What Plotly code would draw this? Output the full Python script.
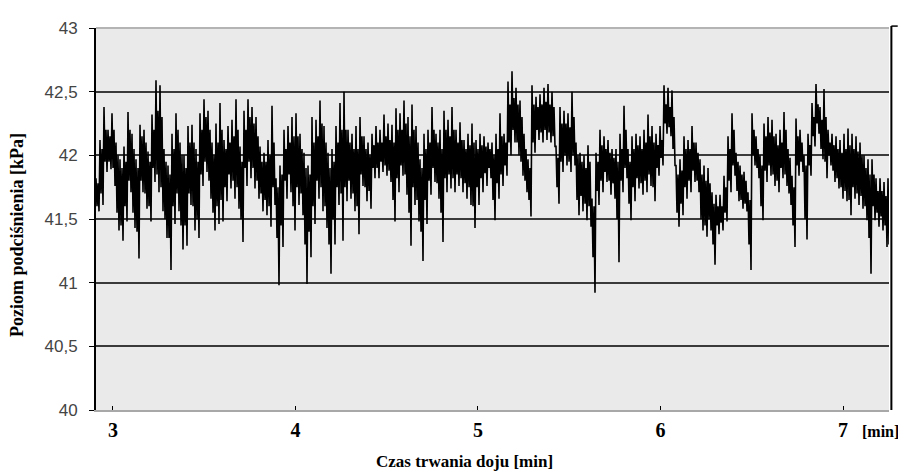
import numpy as np
import plotly.graph_objects as go

# Time span of the recording [min]
T_START = 2.907
T_END = 7.263

# Local maxima (tips of upward spikes), left to right [kPa]
upper_peaks = [
    41.82, 42.12, 42.38, 42.20, 42.33, 42.10, 41.97, 42.07, 42.34, 42.17,
    41.97, 42.24, 42.20, 42.03, 42.32, 42.59, 42.55, 42.05, 41.92, 42.17,
    42.33, 42.10, 42.00, 42.23, 42.24, 42.05, 42.33, 42.44, 42.35, 42.10,
    42.25, 42.41, 42.12, 42.23, 42.28, 42.44, 42.07, 42.35, 42.44, 42.38,
    42.30, 42.07, 42.02, 42.12, 42.39, 41.82, 41.92, 42.20, 42.23, 42.30,
    42.33, 42.17, 42.02, 41.92, 42.30, 42.28, 42.43, 42.23, 42.02, 42.05,
    42.23, 42.41, 42.50, 42.20, 42.17, 42.23, 42.30, 42.15, 42.10, 42.17,
    42.23, 42.20, 42.32, 42.25, 42.24, 42.37, 42.33, 42.43, 42.30, 42.40,
    42.23, 41.97, 42.17, 42.20, 42.38, 42.17, 42.20, 42.35, 42.28, 42.38,
    42.20, 42.26, 42.12, 42.17, 42.25, 42.12, 42.17, 42.15, 42.10, 42.10,
    42.17, 42.33, 42.17, 42.58, 42.66, 42.53, 42.43, 42.17, 41.97, 42.55,
    42.46, 42.48, 42.53, 42.56, 42.50, 42.07, 42.38, 42.35, 42.33, 42.50,
    42.10, 42.02, 42.00, 42.08, 41.66, 42.02, 42.20, 42.15, 42.12, 42.05,
    42.05, 42.17, 42.39, 42.05, 42.15, 42.17, 42.15, 42.20, 42.32, 42.23,
    42.17, 42.23, 42.55, 42.53, 42.51, 41.92, 41.97, 42.15, 42.12, 42.23,
    42.10, 41.97, 41.92, 41.90, 41.71, 41.69, 41.69, 41.84, 42.15, 42.33,
    42.02, 41.92, 41.87, 41.71, 42.33, 42.15, 42.00, 42.25, 42.30, 42.28,
    42.17, 42.20, 42.34, 42.05, 41.84, 42.29, 42.20, 42.00, 42.17, 42.41,
    42.56, 42.38, 42.52, 42.20, 42.17, 42.15, 42.12, 42.17, 42.21, 42.17,
    42.15, 42.10, 42.00, 41.97, 41.97, 41.82, 41.82, 41.79, 41.82,
]

# Upper edge of the dense (solid black) core of the trace [kPa]
core_upper = [
    41.78, 42.05, 42.20, 42.15, 42.20, 42.00, 41.90, 41.95, 42.20, 42.05,
    41.90, 42.15, 42.10, 41.95, 42.20, 42.35, 42.30, 41.95, 41.85, 42.05,
    42.20, 42.00, 41.90, 42.10, 42.10, 41.95, 42.20, 42.30, 42.20, 42.00,
    42.10, 42.20, 42.05, 42.10, 42.15, 42.20, 41.95, 42.20, 42.30, 42.25,
    42.15, 41.95, 41.95, 42.00, 42.10, 41.75, 41.85, 42.05, 42.10, 42.15,
    42.15, 42.05, 41.90, 41.85, 42.10, 42.15, 42.25, 42.10, 41.90, 41.95,
    42.10, 42.20, 42.20, 42.10, 42.05, 42.05, 42.15, 42.05, 42.00, 42.08,
    42.10, 42.10, 42.15, 42.12, 42.10, 42.20, 42.20, 42.25, 42.15, 42.20,
    42.10, 41.90, 42.05, 42.10, 42.20, 42.10, 42.05, 42.20, 42.15, 42.20,
    42.10, 42.12, 42.05, 42.08, 42.10, 42.05, 42.08, 42.07, 42.05, 42.00,
    42.05, 42.15, 42.10, 42.40, 42.45, 42.40, 42.30, 42.05, 41.90, 42.40,
    42.38, 42.40, 42.42, 42.40, 42.38, 41.98, 42.25, 42.25, 42.22, 42.30,
    42.00, 41.95, 41.90, 41.95, 41.60, 41.95, 42.08, 42.05, 42.02, 41.98,
    41.95, 42.05, 42.20, 41.95, 42.05, 42.08, 42.05, 42.10, 42.15, 42.10,
    42.08, 42.12, 42.40, 42.38, 42.30, 41.85, 41.88, 42.05, 42.05, 42.10,
    42.02, 41.85, 41.80, 41.78, 41.62, 41.60, 41.60, 41.75, 42.05, 42.20,
    41.95, 41.85, 41.80, 41.65, 42.20, 42.05, 41.92, 42.15, 42.18, 42.15,
    42.08, 42.10, 42.20, 41.98, 41.75, 42.15, 42.10, 41.92, 42.08, 42.30,
    42.40, 42.28, 42.30, 42.10, 42.08, 42.05, 42.02, 42.05, 42.08, 42.05,
    42.03, 42.00, 41.90, 41.85, 41.85, 41.72, 41.72, 41.68, 41.70,
]

# Lower edge of the dense (solid black) core of the trace [kPa]
core_lower = [
    41.60, 41.70, 41.95, 41.95, 41.90, 41.55, 41.45, 41.60, 41.80, 41.55,
    41.40, 41.80, 41.70, 41.60, 41.90, 41.85, 41.75, 41.50, 41.35, 41.60,
    41.70, 41.45, 41.45, 41.70, 41.60, 41.50, 41.85, 41.95, 41.80, 41.55,
    41.60, 41.65, 41.75, 41.85, 41.80, 41.75, 41.50, 41.90, 41.95, 41.90,
    41.80, 41.70, 41.65, 41.60, 41.75, 41.35, 41.45, 41.80, 41.85, 41.60,
    41.75, 41.70, 41.30, 41.40, 41.60, 41.80, 41.75, 41.60, 41.30, 41.50,
    41.75, 41.70, 41.75, 41.80, 41.70, 41.60, 41.85, 41.75, 41.72, 41.90,
    41.90, 41.95, 41.92, 41.88, 41.65, 41.82, 41.92, 41.85, 41.55, 41.75,
    41.65, 41.40, 41.65, 41.80, 41.90, 41.78, 41.55, 41.82, 41.85, 41.82,
    41.85, 41.82, 41.78, 41.75, 41.60, 41.75, 41.82, 41.86, 41.90, 41.65,
    41.78, 41.85, 41.92, 42.10, 42.20, 42.10, 41.95, 41.80, 41.65, 42.10,
    42.20, 42.18, 42.20, 42.18, 42.15, 41.75, 41.95, 42.00, 41.95, 42.00,
    41.65, 41.68, 41.62, 41.60, 41.20, 41.72, 41.80, 41.87, 41.80, 41.78,
    41.50, 41.80, 41.90, 41.62, 41.75, 41.82, 41.78, 41.80, 41.85, 41.75,
    41.90, 41.98, 42.25, 42.22, 42.05, 41.55, 41.62, 41.75, 41.80, 41.88,
    41.80, 41.50, 41.45, 41.50, 41.30, 41.45, 41.47, 41.55, 41.80, 41.92,
    41.72, 41.65, 41.62, 41.30, 42.00, 41.90, 41.60, 41.88, 41.92, 41.85,
    41.80, 41.90, 41.85, 41.70, 41.45, 41.92, 41.95, 41.50, 41.92, 42.15,
    42.25, 42.05, 41.95, 42.00, 41.88, 41.82, 41.75, 41.72, 41.65, 41.75,
    41.70, 41.68, 41.60, 41.35, 41.60, 41.55, 41.52, 41.45, 41.30,
]

# Local minima (tips of downward spikes), left to right [kPa]
lower_troughs = [
    41.56, 41.61, 41.87, 41.89, 41.76, 41.41, 41.33, 41.48, 41.71, 41.43,
    41.19, 41.71, 41.58, 41.48, 41.79, 41.71, 41.56, 41.35, 41.10, 41.46,
    41.56, 41.26, 41.29, 41.61, 41.41, 41.35, 41.76, 41.87, 41.66, 41.41,
    41.46, 41.48, 41.64, 41.74, 41.66, 41.58, 41.32, 41.76, 41.82, 41.74,
    41.66, 41.56, 41.53, 41.44, 41.61, 40.98, 41.28, 41.66, 41.71, 41.41,
    41.61, 41.53, 40.99, 41.20, 41.46, 41.66, 41.56, 41.43, 41.07, 41.30,
    41.61, 41.33, 41.64, 41.66, 41.56, 41.38, 41.76, 41.64, 41.58, 41.82,
    41.82, 41.87, 41.84, 41.79, 41.48, 41.71, 41.84, 41.69, 41.29, 41.61,
    41.48, 41.17, 41.46, 41.69, 41.79, 41.66, 41.32, 41.71, 41.74, 41.71,
    41.76, 41.71, 41.66, 41.61, 41.43, 41.61, 41.71, 41.76, 41.82, 41.49,
    41.66, 41.76, 41.84, 42.00, 42.10, 42.00, 41.84, 41.71, 41.52, 42.02,
    42.12, 42.10, 42.12, 42.10, 42.07, 41.62, 41.87, 41.92, 41.87, 41.92,
    41.53, 41.56, 41.49, 41.44, 40.92, 41.61, 41.71, 41.79, 41.69, 41.66,
    41.16, 41.71, 41.82, 41.49, 41.64, 41.74, 41.69, 41.71, 41.76, 41.64,
    41.84, 41.92, 42.17, 42.15, 41.92, 41.44, 41.53, 41.66, 41.71, 41.79,
    41.71, 41.41, 41.36, 41.41, 41.14, 41.38, 41.41, 41.48, 41.71, 41.84,
    41.64, 41.58, 41.56, 41.10, 41.92, 41.82, 41.49, 41.79, 41.84, 41.76,
    41.71, 41.82, 41.76, 41.61, 41.28, 41.84, 41.87, 41.34, 41.84, 42.07,
    42.17, 41.97, 41.82, 41.92, 41.79, 41.74, 41.66, 41.64, 41.53, 41.66,
    41.61, 41.58, 41.49, 41.07, 41.49, 41.44, 41.41, 41.28, 41.10,
]

y_tick_values = [40, 40.5, 41, 41.5, 42, 42.5, 43]
y_tick_labels = ["40", "40,5", "41", "41,5", "42", "42,5", "43"]
x_tick_values = [3, 4, 5, 6, 7]
x_tick_labels = ["3", "4", "5", "6", "7"]

# one oscillation per reading: spike top -> core bottom -> core top -> spike bottom
pressure = np.column_stack([upper_peaks, core_lower, core_upper, lower_troughs]).ravel()
time = np.linspace(T_START, T_END, pressure.size)

fig = go.Figure()
fig.add_trace(go.Scatter(
    x=time, y=pressure, mode="lines",
    line=dict(color="black", width=1.6),
    showlegend=False, hoverinfo="skip",
))

serif = "Liberation Serif, Times New Roman, serif"
sans = "Liberation Sans, Arial, sans-serif"

fig.update_layout(
    width=898, height=466,
    margin=dict(l=88, r=17, t=11, b=64),
    paper_bgcolor="white",
    plot_bgcolor="#EAEAEA",
    xaxis=dict(
        range=[T_START, 7.252],
        tickmode="array", tickvals=x_tick_values, ticktext=x_tick_labels,
        ticks="inside", ticklen=4, tickwidth=1, tickcolor="black",
        showline=True, linecolor="#A8A8A8", linewidth=2,
        showgrid=False, zeroline=False,
        tickfont=dict(family=serif, size=20, color="black", weight="bold"),
        ticklabelstandoff=1,
    ),
    yaxis=dict(
        range=[40, 43],
        tickmode="array", tickvals=y_tick_values, ticktext=y_tick_labels,
        ticks="outside", ticklen=5, tickwidth=1, tickcolor="black",
        showline=True, linecolor="black", linewidth=2,
        showgrid=True, gridcolor="#3A3A3A", gridwidth=1.5,
        zeroline=False,
        tickfont=dict(family=sans, size=17, color="#444444"),
        ticklabelstandoff=8,
    ),
    shapes=[
        # light top frame of plot area
        dict(type="line", xref="paper", yref="paper", x0=0, x1=1, y0=1, y1=1,
             line=dict(color="#B4B4B4", width=2), layer="above"),
        # right-hand axis line
        dict(type="line", xref="paper", yref="paper", x0=1.003, x1=1.003, y0=0, y1=1.005,
             line=dict(color="black", width=2), layer="above"),
        dict(type="line", xref="paper", yref="paper", x0=1.003, x1=1.011, y0=1.005, y1=1.005,
             line=dict(color="black", width=1.5), layer="above"),
    ],
    annotations=[
        dict(text="Poziom podciśnienia [kPa]", textangle=-90,
             xref="paper", yref="paper", x=-0.0996, y=0.458,
             xanchor="center", yanchor="middle", showarrow=False,
             font=dict(family=serif, size=18, color="black", weight="bold")),
        dict(text="Czas trwania doju [min]",
             xref="paper", yref="paper", x=0.4653, y=-0.1355,
             xanchor="center", yanchor="middle", showarrow=False,
             font=dict(family=serif, size=17, color="black", weight="bold")),
        dict(text="[min]",
             xref="paper", yref="paper", x=0.9887, y=-0.0563,
             xanchor="center", yanchor="middle", showarrow=False,
             font=dict(family=serif, size=16, color="black", weight="bold")),
    ],
)

fig.write_html("out.html")
